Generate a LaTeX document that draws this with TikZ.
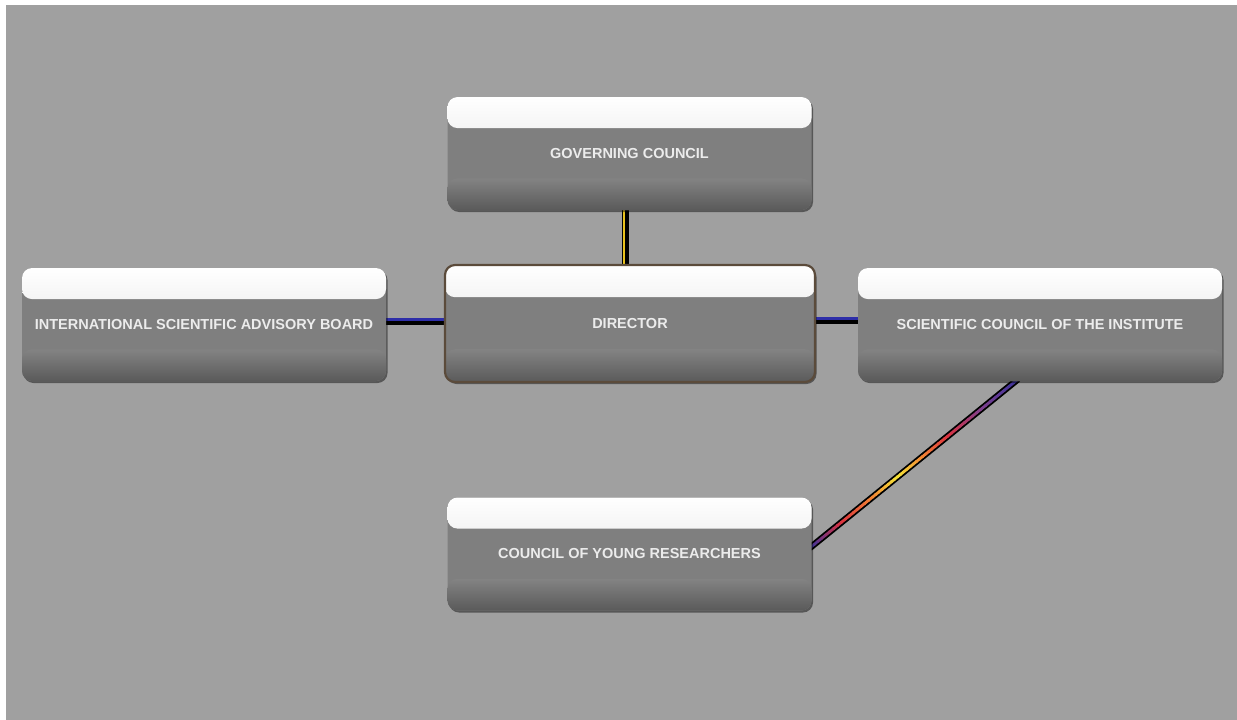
\documentclass[tikz,border=0pt]{standalone}
\usepackage{fontspec}
\setmainfont{Liberation Sans}
\usetikzlibrary{calc,shadows,backgrounds}
\definecolor{bg}{HTML}{A0A0A0}
\definecolor{midgray}{HTML}{7F7F7F}
\definecolor{topgray}{HTML}{D9D9D9}
\definecolor{botA}{HTML}{838383}
\definecolor{botB}{HTML}{5A5A5A}
\definecolor{boxtext}{HTML}{ECECEC}
\definecolor{dirborder}{HTML}{5B4B3B}
\definecolor{linkblue}{HTML}{2E2EA8}
\definecolor{linkgold}{HTML}{E8C21E}
\definecolor{rbBlue}{rgb}{0.22,0.2,0.62}
\definecolor{rbRed}{rgb}{0.86,0.2,0.25}
\definecolor{rbOrange}{rgb}{0.95,0.52,0.2}
\definecolor{rbYellow}{rgb}{0.96,0.9,0.22}
\definecolor{rbPurple}{rgb}{0.5,0.25,0.55}
\tikzset{
  box/.style={rounded corners=10pt, minimum width=364pt, minimum height=113pt,
    inner sep=0pt, font=\bfseries\fontsize{14.5}{17}\selectfont, text=boxtext,
    fill=midgray,
    drop shadow={shadow xshift=1.5pt, shadow yshift=-2pt, opacity=0.45, fill=black},
    path picture={
      \shade[top color=white, bottom color=topgray]
        let \p1=(path picture bounding box.north west),
            \p2=(path picture bounding box.south east) in
        (\x1,\y1) rectangle (\x2,{\y1+0.275*(\y2-\y1)});
      \shade[top color=botA, bottom color=botB]
        let \p1=(path picture bounding box.north west),
            \p2=(path picture bounding box.south east) in
        (\x1,{\y1+0.72*(\y2-\y1)}) rectangle (\x2,\y2);
    }},
  dirbox/.style={box, draw=dirborder, line width=2.2pt, minimum width=370pt, minimum height=117pt},
  connblack/.style={draw=black, line width=7pt},
  corecol/.style={line width=2.8pt}
}
\begin{document}
\begin{tikzpicture}[x=1pt,y=-1pt]
\useasboundingbox (0,0) rectangle (1237,720);

\node[box] (gc) at (629.5,153.5) {GOVERNING COUNCIL};
\node[dirbox] (dir) at (630,323.5) {DIRECTOR};
\node[box] (isab) at (204,324.5) {INTERNATIONAL SCIENTIFIC ADVISORY BOARD};
\node[box] (sci) at (1040,324.5) {SCIENTIFIC COUNCIL OF THE INSTITUTE};
\node[box] (cyr) at (629.5,554) {COUNCIL OF YOUNG RESEARCHERS};

\coordinate (d1) at ([xshift=-22pt,yshift=2pt]sci.south);
\coordinate (d2) at ([yshift=6pt,xshift=-2pt]cyr.east);

\begin{pgfonlayer}{background}
  \fill[white] (0,0) rectangle (1237,720);
  \fill[bg] (6,5) rectangle (1237,720);
  % governing council -- director
  \draw[connblack] ([xshift=-4pt]gc.south) -- ([xshift=-4pt]gc.south |- dir.north);
  \draw[corecol, draw=linkgold] ([xshift=-5.5pt]gc.south) -- ([xshift=-5.5pt]gc.south |- dir.north);
  % advisory board -- director
  \draw[connblack] ([yshift=3.5pt]isab.east) -- ([yshift=3.5pt]isab.east -| dir.west);
  \draw[corecol, draw=linkblue] ([yshift=5pt]isab.east) -- ([yshift=5pt]isab.east -| dir.west);
  % director -- scientific council
  \draw[connblack] ([yshift=4.5pt]sci.west -| dir.east) -- ([yshift=4.5pt]sci.west);
  \draw[corecol, draw=linkblue] ([yshift=6pt]sci.west -| dir.east) -- ([yshift=6pt]sci.west);
  % scientific council -- young researchers (rainbow)
  \draw[black, line width=6.5pt] (d2) -- (d1);
  \foreach \ta/\tb/\ca/\cb in {0/0.15/rbBlue/rbRed, 0.15/0.30/rbRed/rbOrange,
      0.30/0.42/rbOrange/rbYellow, 0.42/0.54/rbYellow/rbOrange,
      0.54/0.66/rbOrange/rbRed, 0.66/0.82/rbRed/rbPurple, 0.82/1/rbPurple/rbBlue} {
    \foreach \k in {0,...,7} {
      \pgfmathsetmacro\sa{\ta+(\tb-\ta)*\k/8}
      \pgfmathsetmacro\sb{min(1,\ta+(\tb-\ta)*(\k+1)/8+0.004)}
      \pgfmathtruncatemacro\pc{100*(\k+0.5)/8}
      \draw[corecol, draw=\cb!\pc!\ca] ($(d2)!\sa!(d1)$) -- ($(d2)!\sb!(d1)$);
    }
  }
\end{pgfonlayer}
\end{tikzpicture}
\end{document}
